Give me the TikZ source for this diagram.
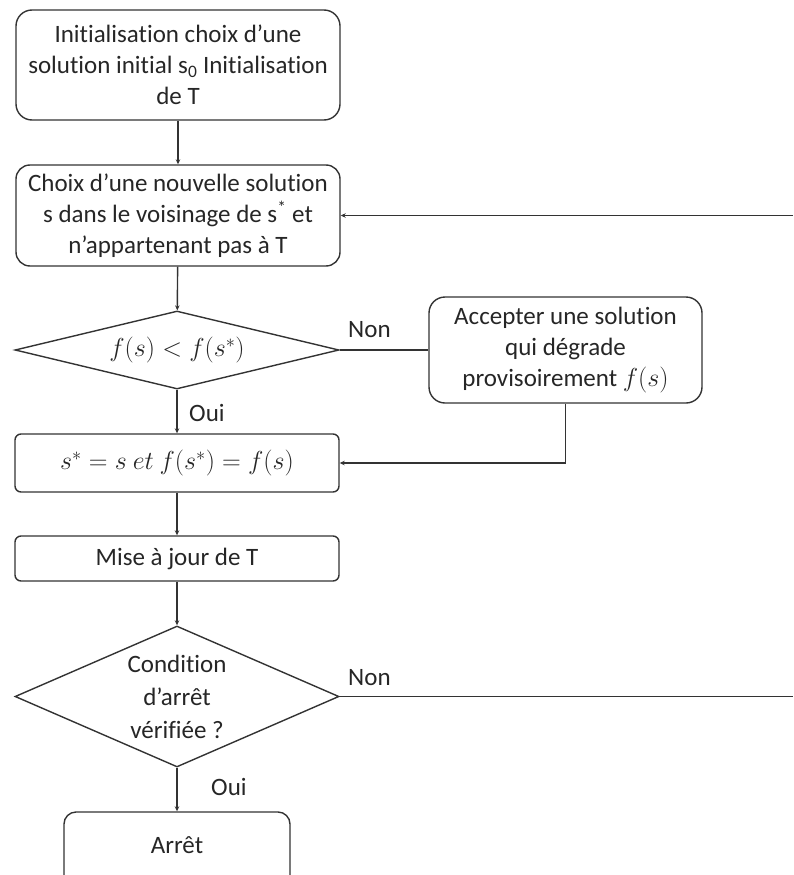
\documentclass[tikz,border=0pt]{standalone}
\usepackage{fix-cm}
\usepackage{fontspec}
\setmainfont{Carlito}[Ligatures=NoCommon]
\usetikzlibrary{shapes.geometric,arrows.meta}
\definecolor{lc}{HTML}{333333}
\definecolor{tc}{HTML}{262626}
\newcommand{\mathsz}{\fontsize{26}{31}\selectfont}
\begin{document}
\begin{tikzpicture}[x=1pt,y=-1pt,
  line/.style={draw=lc, line width=1.4pt},
  arr/.style={line, -{Stealth[length=5pt,width=4.5pt]}},
  txt/.style={text=tc, font=\fontsize{25}{31}\selectfont},
  box/.style={draw=lc, line width=1.4pt, rounded corners=#1, align=center,
    inner sep=0pt, txt},
  dia/.style={draw=lc, line width=1.4pt, diamond, aspect=#1, align=center,
    inner sep=0pt, txt},
  lbl/.style={txt, anchor=west, inner sep=0pt}]
\useasboundingbox (0,0) rectangle (793,875);
\clip (0,0) rectangle (793,875);

% process steps
\node[box=16pt, minimum width=324pt, minimum height=110pt] (init) at (178,65)
  {Initialisation choix d’une\\ solution initial s\textsubscript{0} Initialisation\\ de T};
\node[box=14pt, minimum width=324pt, minimum height=101pt] (choix) at (178,215.5)
  {Choix d’une nouvelle solution\\ s dans le voisinage de s\textsuperscript{*} et\\ n’appartenant pas à T};
\node[dia=4, minimum width=324pt, minimum height=78pt] (test) at (177,350)
  {\mathsz $f(s) < f(s^{*})$};
\node[box=16pt, minimum width=273pt, minimum height=106pt] (accept) at (565.5,350)
  {Accepter une solution\\ qui dégrade\\ provisoirement {\mathsz$f(s)$}};
\node[box=6pt, minimum width=324pt, minimum height=58pt] (maj) at (177,463)
  {\mathsz $s^{*} = s\ et\ f(s^{*}) = f(s)$};
\node[box=6pt, minimum width=324pt, minimum height=45pt] (tabou) at (177,558.5)
  {Mise à jour de T};
\node[dia=2.3, minimum width=324pt, minimum height=141pt, font=\fontsize{25}{33}\selectfont] (stop) at (177,696.5)
  {Condition\\ d’arrêt\\ vérifiée ?};
\node[box=12pt, minimum width=226pt, minimum height=90pt] (fin) at (177,857)
  {};
\node[txt] (fintxt) at (177,845) {Arrêt};

% loop ends at the right border
\coordinate (retour) at (793,215.5);
\coordinate (sortie) at (793,696.5);

% connectors
\draw[arr] (init) -- (choix);
\draw[arr] (choix) -- (test);
\draw[line] (test.east) -- (accept.west);
\draw[arr] (test) -- (maj);
\draw[arr] (accept.south) |- (maj.east);
\draw[arr] (maj) -- (tabou);
\draw[arr] (tabou) -- (stop);
\draw[arr] (stop.south) -- (fin.north);
\draw[line] (stop.east) -- (sortie);
\draw[arr] (retour) -- (choix.east);

% branch labels
\node[lbl] (non1) at (348,330) {Non};
\node[lbl] (oui1) at (189,413) {Oui};
\node[lbl] (non2) at (348,678) {Non};
\node[lbl] (oui2) at (211,787) {Oui};
\end{tikzpicture}
\end{document}
